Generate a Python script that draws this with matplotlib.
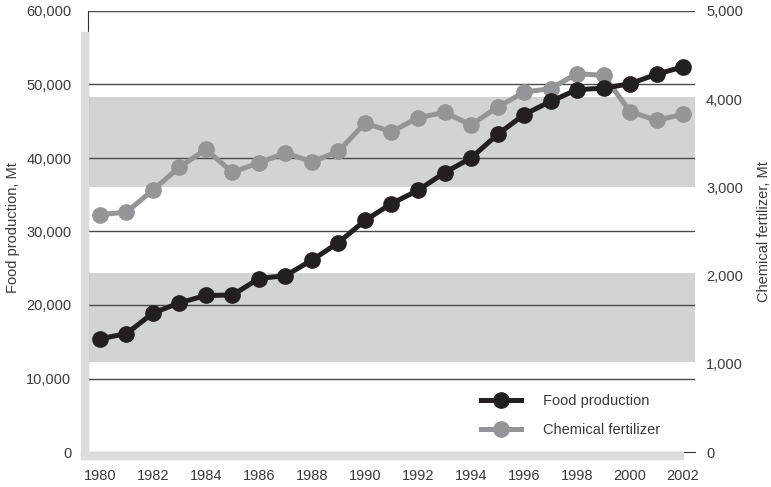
import matplotlib.pyplot as plt
from matplotlib.patches import Rectangle
from matplotlib.lines import Line2D

plt.rcParams['font.family'] = ['Liberation Sans', 'DejaVu Sans']

# data
years = list(range(1980, 2003))
food = [15400, 16100, 18900, 20300, 21300, 21350, 23600, 24000, 26100, 28500,
        31500, 33800, 35600, 38000, 40000, 43200, 45900, 47700, 49300, 49500,
        50100, 51400, 52400]
fertilizer = [2690, 2720, 2970, 3230, 3430, 3170, 3280, 3390, 3290, 3410,
              3730, 3630, 3790, 3850, 3710, 3910, 4080, 4120, 4290, 4270,
              3860, 3760, 3830]
left_ticks = [0, 10000, 20000, 30000, 40000, 50000, 60000]
right_ticks = [0, 1000, 2000, 3000, 4000, 5000]
x_ticks = list(range(1980, 2003, 2))
bands = [(12300, 24300), (36000, 48300)]

BLACK = '#231f20'
GREY = '#939598'
BAND = '#d1d3d4'
SHADOW = '#dcddde'
TEXT = '#3a3a3a'
LW, MS = 3.6, 11

W, H = 771, 487
fig = plt.figure(figsize=(W / 100, H / 100), dpi=100)
ax = fig.add_axes([88 / W, (H - 452) / H, (695 - 88) / W, (452 - 11) / H])

# L-shaped shadow behind the plot area
fig.patches.append(Rectangle((81 / W, (H - 459) / H), 7 / W, (459 - 32) / H,
                             transform=fig.transFigure, color=SHADOW, zorder=0))
fig.patches.append(Rectangle((81 / W, (H - 459) / H), (683 - 81) / W, 7 / H,
                             transform=fig.transFigure, color=SHADOW, zorder=0))

for lo, hi in bands:
    ax.axhspan(lo, hi, color=BAND, lw=0, zorder=0)
for t in left_ticks[1:]:
    ax.axhline(t, color='#4a4a4a', lw=1, zorder=1)

ax.set_xlim(1979.55, 2002.45)
ax.set_ylim(0, 60000)
ax.set_yticks(left_ticks)
ax.set_yticklabels([f'{t:,}' for t in left_ticks])
ax.set_xticks(x_ticks)
ax.tick_params(length=0, labelsize=10.5, labelcolor=TEXT)
ax.tick_params(axis='y', pad=12)
ax.tick_params(axis='x', pad=12)
for s in ['top', 'right']:
    ax.spines[s].set_visible(False)
ax.spines['left'].set_color('#333333')
ax.spines['bottom'].set_color('#333333')

ax2 = ax.twinx()
ax2.set_ylim(0, 5000)
ax2.set_yticks(right_ticks)
ax2.set_yticklabels([f'{t:,}' for t in right_ticks])
ax2.tick_params(length=0, labelsize=10.5, labelcolor=TEXT, pad=8)
for s in ax2.spines.values():
    s.set_visible(False)

fig.text(13 / W, 1 - 228 / H, 'Food production, Mt', rotation=90,
         fontsize=10.5, color=TEXT, ha='center', va='center')
fig.text(764 / W, 1 - 232 / H, 'Chemical fertilizer, Mt', rotation=90,
         fontsize=10.5, color=TEXT, ha='center', va='center')

ax2.plot(years, fertilizer, color=GREY, lw=LW, marker='o', ms=MS, zorder=3)
ax3 = ax.twinx()
ax3.set_ylim(0, 60000)
ax3.axis('off')
ax3.plot(years, food, color=BLACK, lw=LW, marker='o', ms=MS, zorder=4)

handles = [Line2D([], [], color=BLACK, lw=LW, marker='o', ms=MS),
           Line2D([], [], color=GREY, lw=LW, marker='o', ms=MS)]
leg = ax3.legend(handles, ['Food production', 'Chemical fertilizer'],
                 loc='lower left', bbox_to_anchor=(0.625, 0.005), frameon=False,
                 fontsize=10.5, handlelength=2.8, handletextpad=1.5,
                 labelspacing=1.0, labelcolor=TEXT)

fig.savefig('out.png', dpi=100)
